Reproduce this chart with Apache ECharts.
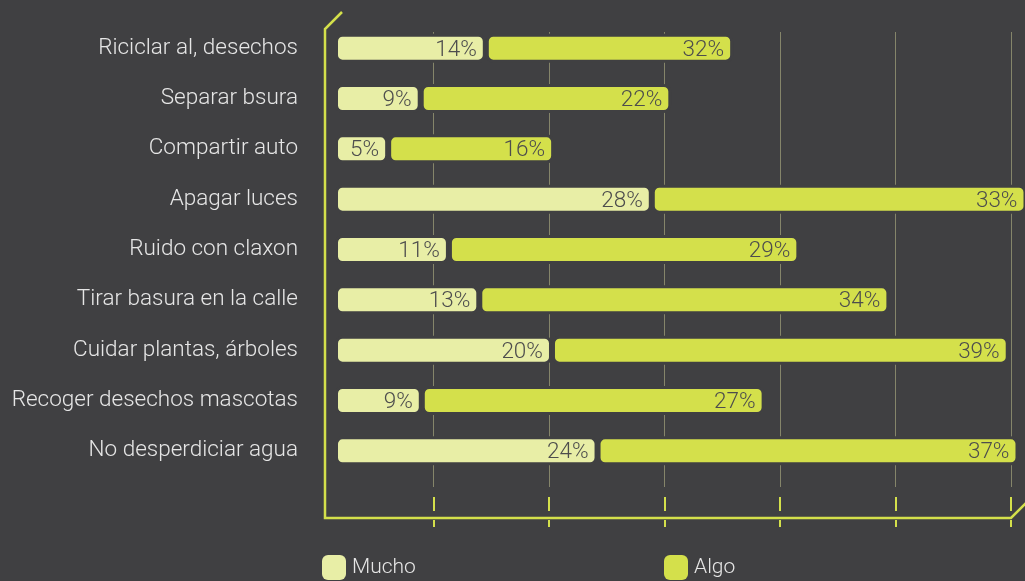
<!DOCTYPE html>
<html>
<head>
<meta charset="utf-8">
<script src="https://cdn.jsdelivr.net/npm/echarts@6/dist/echarts.min.js"></script>
<style>
  html, body { margin: 0; padding: 0; background: #404042; }
  #chart { width: 1025px; height: 581px; }
</style>
</head>
<body>
<div id="chart"></div>
<script>
var categories = ['Riciclar al, desechos', 'Separar bsura', 'Compartir auto', 'Apagar luces',
  'Ruido con claxon', 'Tirar basura en la calle', 'Cuidar plantas, árboles',
  'Recoger desechos mascotas', 'No desperdiciar agua'];
// printed percentages
var muchoPct = [14, 9, 5, 28, 11, 13, 20, 9, 24];
var algoPct = [32, 22, 16, 33, 29, 34, 39, 27, 37];
// bar lengths as drawn in the picture (same units, the original is not exactly proportional)
var muchoBar = [13.9, 7.9, 4.9, 29.2, 10.5, 13.3, 20.0, 8.0, 24.2];
var algoBar = [22.8, 23.1, 15.3, 34.6, 32.3, 37.8, 42.1, 31.6, 38.8];

var bg = '#404042';
var lime = '#d4e04b';
var pale = '#e8eea6';
var font = 'Roboto, "Noto Sans", sans-serif';

var chart = echarts.init(document.getElementById('chart'));

var option = {
  backgroundColor: bg,
  animation: false,
  grid: [
    { left: 335, right: 0, top: 23, height: 453 },   // bars
    { left: 318, right: 14, top: 32, bottom: 94 },   // grid lines
    { left: 318, right: 14, top: 497, height: 14 },  // upper tick dashes
    { left: 318, right: 14, top: 520, height: 7 }    // lower ticks
  ],
  xAxis: [
    { gridIndex: 0, type: 'value', min: 0, max: 63.6, show: false },
    {
      gridIndex: 1, type: 'value', min: 0, max: 6, interval: 1,
      axisLine: { show: false }, axisTick: { show: false }, axisLabel: { show: false },
      splitLine: { show: true, showMinLine: false, lineStyle: { color: '#85856a', width: 1 } }
    },
    {
      gridIndex: 2, type: 'value', min: 0, max: 6, interval: 1,
      axisLine: { show: false }, axisTick: { show: false }, axisLabel: { show: false },
      splitLine: { show: true, showMinLine: false, lineStyle: { color: lime, width: 2 } }
    },
    {
      gridIndex: 3, type: 'value', min: 0, max: 6, interval: 1,
      axisLine: { show: false }, axisTick: { show: false }, axisLabel: { show: false },
      splitLine: { show: true, showMinLine: false, lineStyle: { color: lime, width: 2 } }
    }
  ],
  yAxis: [
    {
      gridIndex: 0, type: 'category', data: categories, inverse: true,
      axisLine: { show: false }, axisTick: { show: false }, splitLine: { show: false },
      axisLabel: {
        color: '#e6e6e6', fontSize: 22.5, fontFamily: font, fontWeight: 300, margin: 37,
        padding: [3, 0, 0, 0]
      }
    },
    { gridIndex: 1, type: 'value', show: false },
    { gridIndex: 2, type: 'value', show: false },
    { gridIndex: 3, type: 'value', show: false }
  ],
  legend: [
    {
      left: 322, top: 555, padding: 0, data: ['Mucho'], icon: 'roundRect',
      itemWidth: 24, itemHeight: 25, itemStyle: { borderWidth: 0 },
      textStyle: { color: '#e6e6e6', fontSize: 21, fontFamily: font, fontWeight: 300, padding: [2, 0, 0, 1] }
    },
    {
      left: 664, top: 555, padding: 0, data: ['Algo'], icon: 'roundRect',
      itemWidth: 24, itemHeight: 25, itemStyle: { borderWidth: 0 },
      textStyle: { color: '#e6e6e6', fontSize: 21, fontFamily: font, fontWeight: 300, padding: [2, 0, 0, 1] }
    }
  ],
  graphic: [
    {
      type: 'polyline',
      shape: { points: [[342, 12], [325, 29], [325, 518], [1011, 518], [1027, 502]] },
      style: { stroke: lime, lineWidth: 2.5, fill: null }
    }
  ],
  series: [
    {
      name: 'Mucho', type: 'bar', stack: 'total', xAxisIndex: 0, yAxisIndex: 0,
      data: muchoBar, barWidth: 29,
      itemStyle: { color: pale, borderColor: bg, borderWidth: 3, borderRadius: 6 },
      label: {
        show: true, position: 'insideRight', distance: 9, offset: [0, 2],
        color: '#4d4d4d', fontSize: 22.5, fontFamily: font, fontWeight: 300,
        formatter: function (p) { return muchoPct[p.dataIndex] + '%'; }
      }
    },
    {
      name: 'Algo', type: 'bar', stack: 'total', xAxisIndex: 0, yAxisIndex: 0,
      data: algoBar, barWidth: 29,
      itemStyle: { color: lime, borderColor: bg, borderWidth: 3, borderRadius: 6 },
      label: {
        show: true, position: 'insideRight', distance: 9, offset: [0, 2],
        color: '#4d4d4d', fontSize: 22.5, fontFamily: font, fontWeight: 300,
        formatter: function (p) { return algoPct[p.dataIndex] + '%'; }
      }
    }
  ]
};

chart.setOption(option);
</script>
</body>
</html>
